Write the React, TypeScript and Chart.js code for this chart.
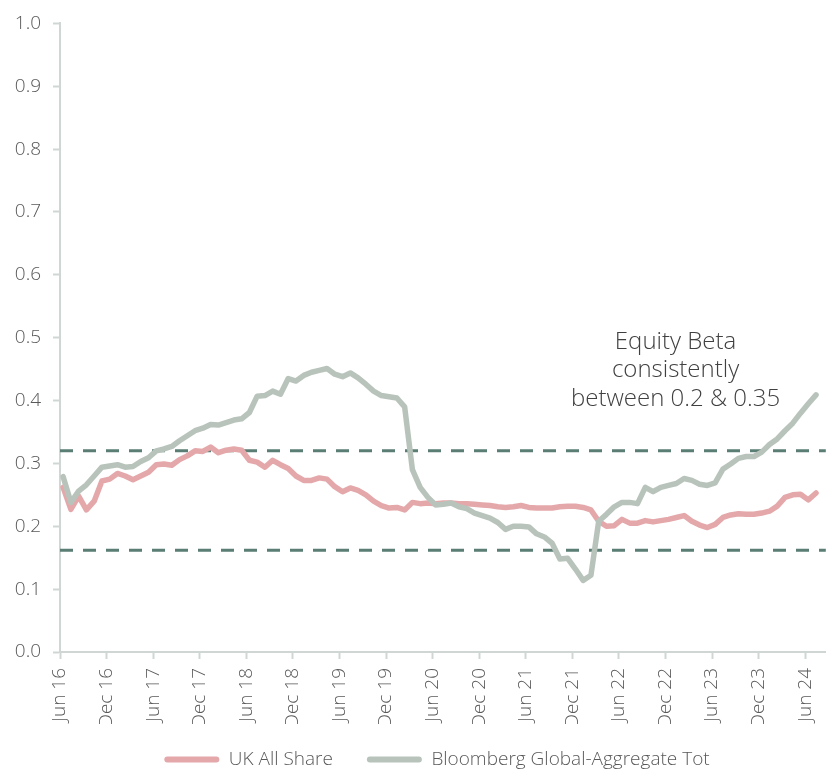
import React, { useEffect, useRef } from 'react';
import { Chart, registerables } from 'chart.js';

Chart.register(...registerables);

// ---- Data ----
const TICK_LABELS = [
  'Jun 16', 'Dec 16', 'Jun 17', 'Dec 17', 'Jun 18', 'Dec 18', 'Jun 19', 'Dec 19', 'Jun 20',
  'Dec 20', 'Jun 21', 'Dec 21', 'Jun 22', 'Dec 22', 'Jun 23', 'Dec 23', 'Jun 24',
];
const MONTHS_PER_TICK = 6;

const SERIES_NAMES = ['UK All Share', 'Bloomberg Global-Aggregate Tot'];

// Monthly values, Jun 16 → Jul 24
const UK_ALL_SHARE = [
  0.262, 0.227, 0.248, 0.226, 0.240, 0.272, 0.275, 0.284, 0.280, 0.274,
  0.280, 0.286, 0.298, 0.299, 0.297, 0.306, 0.312, 0.320, 0.319, 0.326,
  0.317, 0.321, 0.323, 0.321, 0.305, 0.302, 0.294, 0.305, 0.298, 0.292,
  0.280, 0.273, 0.273, 0.277, 0.275, 0.263, 0.255, 0.261, 0.257, 0.250,
  0.240, 0.233, 0.229, 0.230, 0.226, 0.238, 0.236, 0.237, 0.236, 0.237,
  0.237, 0.236, 0.236, 0.235, 0.234, 0.233, 0.231, 0.230, 0.231, 0.233,
  0.230, 0.229, 0.229, 0.229, 0.231, 0.232, 0.232, 0.230, 0.226, 0.208,
  0.200, 0.201, 0.211, 0.205, 0.205, 0.209, 0.207, 0.209, 0.211, 0.214,
  0.217, 0.208, 0.202, 0.198, 0.203, 0.214, 0.218, 0.220, 0.219, 0.219,
  0.221, 0.224, 0.232, 0.246, 0.250, 0.251, 0.242, 0.253,
];

const BLOOMBERG_AGG = [
  0.279, 0.238, 0.256, 0.266, 0.280, 0.294, 0.296, 0.298, 0.294, 0.295,
  0.303, 0.309, 0.320, 0.323, 0.327, 0.336, 0.344, 0.352, 0.356, 0.362,
  0.361, 0.365, 0.369, 0.371, 0.381, 0.407, 0.408, 0.415, 0.410, 0.435,
  0.431, 0.440, 0.445, 0.448, 0.451, 0.442, 0.438, 0.444, 0.436, 0.426,
  0.415, 0.408, 0.406, 0.404, 0.390, 0.290, 0.262, 0.246, 0.234, 0.235,
  0.237, 0.231, 0.228, 0.221, 0.217, 0.213, 0.206, 0.195, 0.200, 0.200,
  0.199, 0.188, 0.183, 0.173, 0.148, 0.149, 0.132, 0.114, 0.122, 0.208,
  0.219, 0.231, 0.238, 0.238, 0.236, 0.262, 0.255, 0.262, 0.265, 0.268,
  0.276, 0.273, 0.267, 0.265, 0.269, 0.291, 0.299, 0.308, 0.311, 0.311,
  0.318, 0.330, 0.339, 0.352, 0.364, 0.380, 0.395, 0.409,
];

const BAND_UPPER = 0.32;
const BAND_LOWER = 0.162;

const ANNOTATION_LINES = ['Equity Beta', 'consistently', 'between 0.2 & 0.35'];
const ANNOTATION_X = 79.3; // in months from Jun 16
const ANNOTATION_Y = 0.437;

// ---- Styles ----
const X_MAX = 98.67;
const DATA_OFFSET = 0.4;
const PINK = '#e4a8ab';
const SAGE = '#b8c4bb';
const DASH = '#5a7d74';
const AXIS = '#cfd6d3';
const TEXT = '#595959';
const FONT = '"Open Sans", sans-serif';
const TICK_FONT_SIZE = 19;
const LEGEND_SHIFT_X = 19;
const LEGEND_SHIFT_Y = -8;

const annotationPlugin = {
  id: 'equityAnnotation',
  afterDatasetsDraw(chart: any) {
    const { ctx, scales } = chart;
    const cx = scales.x.getPixelForValue(ANNOTATION_X);
    const cy = scales.y.getPixelForValue(ANNOTATION_Y);
    ctx.save();
    ctx.font = `300 24px ${FONT}`;
    ctx.fillStyle = '#404040';
    ctx.textAlign = 'center';
    ctx.textBaseline = 'alphabetic';
    ANNOTATION_LINES.forEach((t, k) => ctx.fillText(t, cx, cy + (k - 1) * 28.5));
    ctx.restore();
  },
};

const legendShiftPlugin = {
  id: 'legendShift',
  afterLayout(chart: any) {
    const lg = chart.legend;
    if (lg) {
      lg.left += LEGEND_SHIFT_X;
      lg.right += LEGEND_SHIFT_X;
      lg.top += LEGEND_SHIFT_Y;
    }
  },
};

export default function App() {
  const ref = useRef<HTMLCanvasElement | null>(null);

  useEffect(() => {
    if (!ref.current) return;
    Chart.defaults.font.family = FONT;
    const toPts = (arr: number[]) => arr.map((v, i) => ({ x: i + DATA_OFFSET, y: v }));
    const band = (v: number) => [{ x: 0, y: v }, { x: X_MAX, y: v }];
    const colors = [PINK, SAGE];
    const tickFont = { size: TICK_FONT_SIZE, weight: '300' as any, family: FONT };

    const chart = new Chart(ref.current, {
      type: 'line',
      data: {
        datasets: [
          {
            label: SERIES_NAMES[0],
            data: toPts(UK_ALL_SHARE),
            borderColor: PINK,
            backgroundColor: PINK,
            borderWidth: 5.5,
            pointRadius: 0,
            borderCapStyle: 'round',
            borderJoinStyle: 'round',
            tension: 0,
            order: 1,
          },
          {
            label: SERIES_NAMES[1],
            data: toPts(BLOOMBERG_AGG),
            borderColor: SAGE,
            backgroundColor: SAGE,
            borderWidth: 5.5,
            pointRadius: 0,
            borderCapStyle: 'round',
            borderJoinStyle: 'round',
            tension: 0,
            order: 0,
          },
          {
            label: 'upper',
            data: band(BAND_UPPER),
            borderColor: DASH,
            borderWidth: 3,
            borderDash: [13, 10],
            pointRadius: 0,
            order: 2,
          },
          {
            label: 'lower',
            data: band(BAND_LOWER),
            borderColor: DASH,
            borderWidth: 3,
            borderDash: [13, 10],
            pointRadius: 0,
            order: 2,
          },
        ] as any,
      },
      options: {
        responsive: false,
        animation: false,
        devicePixelRatio: 1,
        layout: { padding: { top: 18, right: 1, bottom: 0, left: 0 } },
        scales: {
          x: {
            type: 'linear',
            min: 0,
            max: X_MAX,
            afterBuildTicks: (s: any) => {
              s.ticks = TICK_LABELS.map((_, k) => ({ value: k * MONTHS_PER_TICK }));
            },
            afterFit: (s: any) => {
              s.height = 72;
            },
            ticks: {
              autoSkip: false,
              minRotation: 90,
              maxRotation: 90,
              padding: 9,
              color: TEXT,
              font: tickFont,
              callback: (v: any) => TICK_LABELS[Math.round(Number(v) / MONTHS_PER_TICK)] ?? '',
            },
            grid: {
              drawOnChartArea: false,
              drawTicks: true,
              tickLength: 7,
              tickWidth: 2,
              tickColor: AXIS,
            },
            border: { display: true, color: AXIS, width: 2 },
          },
          y: {
            min: 0,
            max: 1,
            afterFit: (s: any) => {
              s.width = 60;
            },
            ticks: {
              stepSize: 0.1,
              padding: 12,
              color: TEXT,
              font: tickFont,
              callback: (v: any) => Number(v).toFixed(1),
            },
            grid: {
              drawOnChartArea: false,
              drawTicks: true,
              tickLength: 7,
              tickWidth: 2,
              tickColor: AXIS,
            },
            border: { display: true, color: AXIS, width: 2 },
          },
        },
        plugins: {
          tooltip: { enabled: false },
          legend: {
            position: 'bottom',
            maxHeight: 47,
            labels: {
              boxWidth: 55,
              boxHeight: 6,
              padding: 34,
              color: TEXT,
              font: tickFont,
              useBorderRadius: true,
              borderRadius: 3,
              generateLabels: () =>
                SERIES_NAMES.map((text, i) => ({
                  text,
                  fillStyle: colors[i],
                  strokeStyle: colors[i],
                  lineWidth: 0,
                  hidden: false,
                  datasetIndex: i,
                  borderRadius: 3,
                  fontColor: TEXT,
                })),
            },
          },
        },
      } as any,
      plugins: [annotationPlugin, legendShiftPlugin],
    });
    return () => chart.destroy();
  }, []);

  return (
    <div style={{ position: 'absolute', left: 0, top: 0, width: 837, height: 771, background: '#fff' }}>
      <canvas ref={ref} width={837} height={771} style={{ display: 'block', width: 837, height: 771 }} />
    </div>
  );
}
